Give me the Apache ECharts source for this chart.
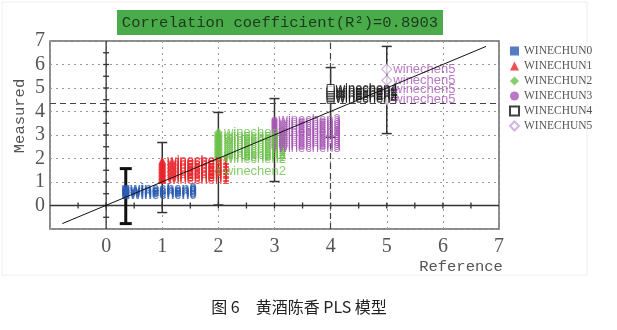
<!DOCTYPE html>
<html>
<head>
<meta charset="utf-8">
<script src="https://cdn.jsdelivr.net/npm/echarts@6/dist/echarts.min.js"></script>
<style>
  html, body { margin: 0; padding: 0; background: #fff; }
  #chart { width: 617px; height: 330px; }
</style>
</head>
<body>
<div id="chart"></div>
<script>
// PLS model: measured vs reference aroma score for six wine groups
const groupNames = ['WINECHUN0', 'WINECHUN1', 'WINECHUN2', 'WINECHUN3', 'WINECHUN4', 'WINECHUN5'];
const pointLabels = ['winechen0', 'winechen1', 'winechen2', 'winechen3', 'winechen4', 'winechen5'];
const referenceX = [0.35, 1, 2, 3, 4, 5];

const measured0 = [0.42, 0.5, 0.58, 0.66, 0.72];
const measured1 = [1.08, 1.14, 1.2, 1.26, 1.32, 1.38, 1.44, 1.5, 1.56, 1.62, 1.68, 1.74, 1.8, 1.86, 1.92];
const measured2 = [1.45, 1.95, 2.03, 2.11, 2.19, 2.27, 2.35, 2.43, 2.51, 2.59, 2.67, 2.75, 2.83, 2.91, 2.99, 3.1];
const measured3 = [2.45, 2.53, 2.61, 2.69, 2.77, 2.85, 2.93, 3.01, 3.09, 3.17, 3.25, 3.33, 3.41, 3.49, 3.57, 3.65];
const measured4 = [4.5, 4.57, 4.64, 4.71, 4.78, 4.85, 4.92, 5.0];
const measured5 = [4.5, 4.94, 5.32, 5.8];
const measuredGroups = [measured0, measured1, measured2, measured3, measured4, measured5];

// error bar ranges per group: low / high
const errLow = [-0.77, -0.3, 0.02, 1.02, 2.9, 3.06];
const errHigh = [1.57, 2.68, 3.96, 4.55, 5.87, 6.77];

// fitted line end points (reference, measured)
const fitStart = [-0.78, -0.77];
const fitEnd = [6.77, 6.77];

// reference guide lines
const guideY = 4.35;
const guideX = 4;

const titleText = 'Correlation coefficient(R²)=0.8903';
const captionText = '图 6\u3000黄酒陈香 PLS 模型';

// axis range and ticks
const axisMin = -1;
const axisMax = 7;
const crossTickStep = 0.5;

// ---- styles ----
const symbolStyles = [
  { symbol: 'rect', size: 7, item: { color: '#2a5bb0' }, text: '#2a5bb0', bold: true, offset: [0, -2] },
  { symbol: 'triangle', size: 8, item: { color: '#e8262b' }, text: '#e8262b', offset: [0, 0] },
  { symbol: 'diamond', size: 9, item: { color: '#6cc04a' }, text: '#6cc04a', offset: [0, 0] },
  { symbol: 'circle', size: 6, item: { color: '#a656b4' }, text: '#a656b4', offset: [0, 0] },
  { symbol: 'rect', size: 7, item: { color: '#ffffff', borderColor: '#111', borderWidth: 1 }, text: '#1a1a1a', offset: [0, 0] },
  { symbol: 'diamond', size: 10, item: { color: '#ffffff', borderColor: '#c8a2d6', borderWidth: 1.2 }, text: '#a656b4', offset: [-3, -3] }
];
const barWidths = [3, 1.5, 1.5, 1.5, 1.5, 1.5];

const chart = echarts.init(document.getElementById('chart'), null, { renderer: 'canvas' });

const groupSeries = measuredGroups.map(function (vals, gi) {
  const st = symbolStyles[gi];
  return {
    name: groupNames[gi],
    type: 'scatter',
    z: 5,
    symbol: st.symbol,
    symbolSize: st.size,
    itemStyle: st.item,
    label: {
      show: true,
      position: 'right',
      distance: 1,
      offset: st.offset,
      formatter: pointLabels[gi],
      fontFamily: 'Liberation Sans',
      fontSize: 13,
      fontWeight: st.bold ? 'bold' : 'normal',
      color: st.text
    },
    labelLayout: { hideOverlap: false },
    emphasis: { disabled: true },
    data: vals.map(function (v) { return [referenceX[gi], v]; })
  };
});

const errorBarData = referenceX.map(function (x, i) { return [x, errLow[i], errHigh[i], i]; });

const option = {
  backgroundColor: '#ffffff',
  animation: false,
  grid: {
    left: 50, top: 41, right: 118, bottom: 101,
    show: true, borderColor: '#666', borderWidth: 1.5, backgroundColor: 'transparent'
  },
  legend: {
    orient: 'vertical',
    left: 504, top: 40,
    itemWidth: 9, itemHeight: 9, itemGap: 3,
    selectedMode: false,
    textStyle: { fontFamily: 'Liberation Serif', fontSize: 11.5, color: '#555', lineHeight: 10 },
    data: groupNames
  },
  xAxis: {
    type: 'value', min: axisMin, max: axisMax, interval: 1,
    axisLine: { show: false }, axisTick: { show: false },
    splitLine: { show: true, lineStyle: { color: '#999', type: [2, 4], width: 1 } },
    axisLabel: {
      margin: 8, fontFamily: 'Liberation Serif', fontSize: 20, color: '#555',
      formatter: function (v) { return v < 0 ? '' : String(v); }
    }
  },
  yAxis: {
    type: 'value', min: axisMin, max: axisMax, interval: 1,
    axisLine: { show: false }, axisTick: { show: false },
    splitLine: { show: true, lineStyle: { color: '#999', type: [2, 4], width: 1 } },
    axisLabel: {
      margin: 5, fontFamily: 'Liberation Serif', fontSize: 20, color: '#555',
      formatter: function (v) { return v < 0 ? '' : String(v); }
    }
  },
  series: [
    {
      // zero cross lines with small ticks every half unit
      type: 'custom',
      z: 2,
      silent: true,
      data: [[0, 0]],
      renderItem: function (params, api) {
        const children = [];
        const a = api.coord([axisMin, 0]), b = api.coord([axisMax, 0]);
        const c = api.coord([0, axisMin]), d = api.coord([0, axisMax]);
        const ls = { stroke: '#333', lineWidth: 1.3 };
        children.push({ type: 'line', shape: { x1: a[0], y1: a[1], x2: b[0], y2: b[1] }, style: ls });
        children.push({ type: 'line', shape: { x1: c[0], y1: c[1], x2: d[0], y2: d[1] }, style: ls });
        for (let t = axisMin + crossTickStep; t < axisMax; t += crossTickStep) {
          const px = api.coord([t, 0]);
          const py = api.coord([0, t]);
          children.push({ type: 'line', shape: { x1: px[0], y1: px[1] - 3, x2: px[0], y2: px[1] + 3 }, style: ls });
          children.push({ type: 'line', shape: { x1: py[0] - 3, y1: py[1], x2: py[0] + 3, y2: py[1] }, style: ls });
        }
        return { type: 'group', children: children };
      }
    },
    {
      // error bars
      type: 'custom',
      z: 3,
      silent: true,
      data: errorBarData,
      renderItem: function (params, api) {
        const x = api.value(0), lo = api.value(1), hi = api.value(2), idx = api.value(3);
        const top = api.coord([x, hi]), bot = api.coord([x, lo]);
        const w = barWidths[idx];
        const st = { stroke: idx === 0 ? '#111' : '#333', lineWidth: w };
        const cap = idx === 0 ? 6 : 5;
        return {
          type: 'group',
          children: [
            { type: 'line', shape: { x1: top[0], y1: top[1], x2: bot[0], y2: bot[1] }, style: st },
            { type: 'line', shape: { x1: top[0] - cap, y1: top[1], x2: top[0] + cap, y2: top[1] }, style: st },
            { type: 'line', shape: { x1: bot[0] - cap, y1: bot[1], x2: bot[0] + cap, y2: bot[1] }, style: st }
          ]
        };
      }
    },
    {
      // fitted line
      type: 'line',
      z: 6,
      silent: true,
      symbol: 'none',
      lineStyle: { color: '#111', width: 1 },
      data: [fitStart, fitEnd],
      markLine: {
        silent: true,
        symbol: 'none',
        label: { show: false },
        lineStyle: { color: '#444', type: [6, 4], width: 1.2 },
        data: [{ yAxis: guideY }, { xAxis: guideX }]
      }
    }
  ].concat(groupSeries),
  graphic: [
    {
      type: 'rect', z: -1, silent: true,
      shape: { x: 2, y: 2, width: 585, height: 273 },
      style: { fill: 'none', stroke: '#eeeeee', lineWidth: 1 }
    },
    {
      type: 'rect', silent: true,
      shape: { x: 117, y: 10, width: 326, height: 25 },
      style: { fill: '#4aab4a' }
    },
    {
      type: 'text', silent: true, x: 280, y: 23,
      style: {
        text: titleText, fill: '#1c3a1c', font: '15.5px "Liberation Mono"',
        textAlign: 'center', textVerticalAlign: 'middle'
      }
    },
    {
      type: 'text', silent: true, x: 20, y: 116, rotation: Math.PI / 2,
      style: {
        text: 'Measured', fill: '#555', font: '15.5px "Liberation Mono"',
        textAlign: 'center', textVerticalAlign: 'middle'
      }
    },
    {
      type: 'text', silent: true, x: 461, y: 267,
      style: {
        text: 'Reference', fill: '#555', font: '15.5px "Liberation Mono"',
        textAlign: 'center', textVerticalAlign: 'middle'
      }
    },
    {
      type: 'text', silent: true, x: 299, y: 307,
      style: {
        text: captionText, fill: '#222', font: '16px "Noto Sans CJK SC"',
        textAlign: 'center', textVerticalAlign: 'middle'
      }
    }
  ]
};

chart.setOption(option);
</script>
</body>
</html>
